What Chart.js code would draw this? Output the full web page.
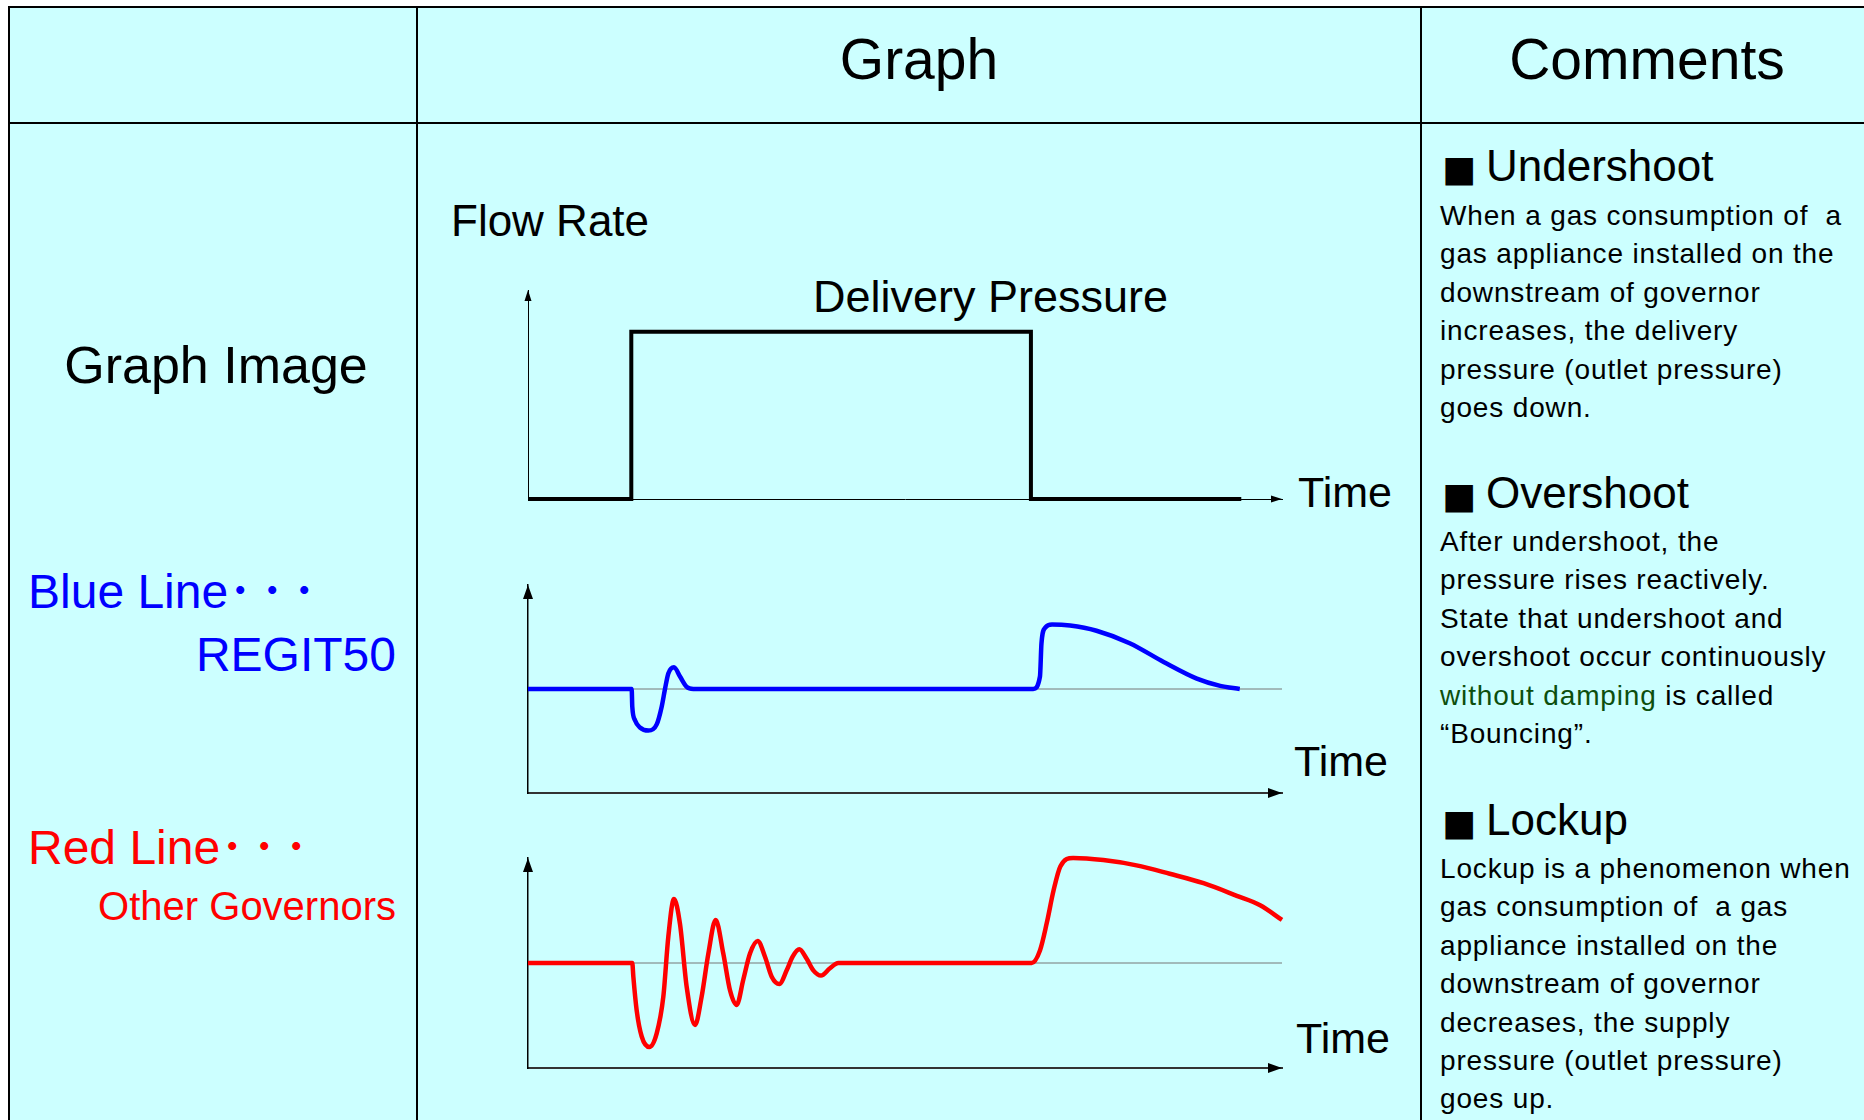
<!DOCTYPE html>
<html>
<head>
<meta charset="utf-8">
<script src="https://cdn.jsdelivr.net/npm/chart.js@4.4.1/dist/chart.umd.min.js"></script>
<style>
  html, body { margin: 0; padding: 0; background: #fff; }
  body { width: 1864px; height: 1120px; position: relative; overflow: hidden;
         font-family: "Liberation Sans", Arial, "Noto Sans CJK JP", sans-serif; color: #000; }
  #sheet { position: absolute; left: 8px; top: 6px; width: 1900px; height: 1200px;
           background: #ccffff; border-top: 2px solid #000; border-left: 2px solid #000; }
  .vline { position: absolute; top: 6px; width: 2px; height: 1200px; background: #000; }
  .hline { position: absolute; left: 8px; width: 1900px; height: 2px; background: #000; }
  .t { position: absolute; white-space: pre; line-height: 1; transform: translateY(-50%); }
  .c { transform: translate(-50%, -50%); }
  .dots { letter-spacing: 8px; }
  .head { font-size: 44px; }
  .sq { font-family: "DejaVu Sans"; font-size: 36px; margin-right: 10px; }
  .body { position: absolute; left: 1440px; font-size: 28px; letter-spacing: 0.85px;
          line-height: 38.4px; white-space: pre; }
  .green { color: #0d4f0d; }
  canvas { position: absolute; }
</style>
</head>
<body>
<div id="sheet"></div>
<div class="vline" style="left:416px"></div>
<div class="vline" style="left:1420px"></div>
<div class="hline" style="top:122px"></div>

<!-- header row -->
<div class="t c" style="left:919px; top:59px; font-size:57px">Graph</div>
<div class="t c" style="left:1647px; top:59px; font-size:57px">Comments</div>

<!-- left column -->
<div class="t c" style="left:216px; top:365px; font-size:52px">Graph Image</div>
<div class="t" style="left:28px; top:592px; font-size:48px; color:#0000ff">Blue Line<span class="dots">･･･</span></div>
<div class="t" style="right:1468px; top:655px; font-size:48px; color:#0000ff">REGIT50</div>
<div class="t" style="left:28px; top:848px; font-size:48px; color:#ff0000">Red Line<span class="dots">･･･</span></div>
<div class="t" style="right:1468px; top:906px; font-size:40px; color:#ff0000">Other Governors</div>

<!-- graph column labels -->
<div class="t" style="left:451px; top:221px; font-size:44px">Flow Rate</div>
<div class="t" style="left:813px; top:296px; font-size:45px">Delivery Pressure</div>
<div class="t" style="left:1298px; top:492px; font-size:43px">Time</div>
<div class="t" style="left:1294px; top:761px; font-size:43px">Time</div>
<div class="t" style="left:1296px; top:1038px; font-size:43px">Time</div>

<canvas id="flowChart" width="782" height="233" style="left:516px; top:274px"></canvas>
<canvas id="blueChart" width="782" height="232" style="left:516px; top:569px"></canvas>
<canvas id="redChart" width="782" height="234" style="left:516px; top:842px"></canvas>

<!-- comments column -->
<div class="t head" style="left:1442px; top:166px"><span class="sq">■</span>Undershoot</div>
<div class="body" style="top:197px">When a gas consumption of  a
gas appliance installed on the
downstream of governor
increases, the delivery
pressure (outlet pressure)
goes down.</div>

<div class="t head" style="left:1442px; top:493px"><span class="sq">■</span>Overshoot</div>
<div class="body" style="top:523px">After undershoot, the
pressure rises reactively.
State that undershoot and
overshoot occur continuously
<span class="green">without damping</span> is called
“Bouncing”.</div>

<div class="t head" style="left:1442px; top:820px"><span class="sq">■</span>Lockup</div>
<div class="body" style="top:850px">Lockup is a phenomenon when
gas consumption of  a gas
appliance installed on the
downstream of governor
decreases, the supply
pressure (outlet pressure)
goes up.</div>

<script>
// time axis runs 0..100 in all three graphs
const timeMin = 0;
const timeMax = 100;

// flow rate step (gas appliance switched on, then off)
const flowTime = [0, 13.7, 13.7, 66.7, 66.7, 94.6];
const flowRate = [0, 0, 1, 1, 0, 0];

// delivery pressure, REGIT50 (blue)
const blueTime  = [0, 13.75, 13.83, 14.19, 14.85, 15.96, 17.07, 17.73, 18.17, 18.61, 19.36, 20.16, 21.05, 21.92,
                   67.0, 67.9, 68.1, 68.6, 69.5, 71.9, 75.4, 79.8, 84.3, 88.7, 91.8, 94.4];
const bluePress = [1, 1, 0.83, 0.70, 0.63, 0.60, 0.66, 0.83, 1.0, 1.15, 1.21, 1.12, 1.02, 1.0,
                   1.0, 1.12, 1.44, 1.59, 1.62, 1.61, 1.56, 1.44, 1.26, 1.10, 1.03, 1.0];

// delivery pressure, other governors (red)
const redTime  = [0, 13.83, 13.97, 14.41, 15.08, 16.09, 17.07, 17.95, 18.61, 19.36, 20.16, 21.05, 22.15,
                  23.03, 23.92, 24.89, 25.9, 26.79, 27.67, 28.55, 29.44, 30.46, 31.43, 32.32, 33.33,
                  34.31, 35.1, 35.98, 36.96, 37.84, 38.86, 40.05, 41.15,
                  66.8, 67.9, 68.8, 69.7, 70.6, 72.3, 76.3, 80.7, 85.1, 89.6, 94.0, 97.1, 100];
const redPress = [1, 1, 0.87, 0.55, 0.30, 0.2, 0.33, 0.68, 1.25, 1.61, 1.37, 0.77, 0.41,
                  0.68, 1.09, 1.41, 1.09, 0.74, 0.60, 0.84, 1.09, 1.21, 1.06, 0.87, 0.80,
                  0.93, 1.06, 1.13, 1.04, 0.93, 0.88, 0.95, 1.0,
                  1.0, 1.12, 1.38, 1.69, 1.92, 2.0, 1.98, 1.93, 1.85, 1.76, 1.64, 1.55, 1.41];

// set pressure (thin reference line)
const setLevel = 1;

const pts = (xs, ys) => xs.map((x, i) => ({ x: x, y: ys[i] }));

// arrow heads on the ends of both axes
const axisArrows = {
  id: 'axisArrows',
  afterDraw(chart, args, opts) {
    const { ctx, chartArea: { left, right, top, bottom } } = chart;
    const len = opts.len, half = opts.half;
    ctx.save();
    ctx.fillStyle = '#000';
    ctx.beginPath();
    ctx.moveTo(left, top);
    ctx.lineTo(left - half, top + len);
    ctx.lineTo(left + half, top + len);
    ctx.closePath();
    ctx.moveTo(right, bottom);
    ctx.lineTo(right - len, bottom - half);
    ctx.lineTo(right - len, bottom + half);
    ctx.closePath();
    ctx.fill();
    ctx.restore();
  }
};

function makeChart(id, datasets, yMax, axis) {
  return new Chart(document.getElementById(id), {
    type: 'line',
    data: { datasets: datasets },
    plugins: [axisArrows],
    options: {
      responsive: false,
      animation: false,
      events: [],
      layout: { padding: { left: 12, right: 16, top: 16, bottom: 8 } },
      elements: { point: { radius: 0 } },
      scales: {
        x: {
          type: 'linear', min: timeMin, max: timeMax,
          grid: { display: false, drawTicks: false },
          ticks: { display: false },
          border: { display: true, color: axis.xColor, width: axis.xWidth },
          afterFit(s) { s.height = 0; }
        },
        y: {
          type: 'linear', min: 0, max: yMax,
          grid: { display: false, drawTicks: false },
          ticks: { display: false },
          border: { display: true, color: '#000', width: axis.yWidth },
          afterFit(s) { s.width = 0; }
        }
      },
      plugins: {
        legend: { display: false },
        tooltip: { enabled: false },
        axisArrows: { len: axis.len, half: axis.half }
      }
    }
  });
}

// Flow Rate
makeChart('flowChart', [
  {
    data: pts(flowTime, flowRate),
    borderColor: '#000', borderWidth: 4, tension: 0,
    borderJoinStyle: 'miter', borderCapStyle: 'butt', clip: false
  }
], 1.25, { xColor: '#000', xWidth: 1, yWidth: 1, len: 11, half: 3.5 });

// REGIT50
makeChart('blueChart', [
  {
    data: pts(blueTime, bluePress),
    borderColor: '#0000ff', borderWidth: 4.5,
    cubicInterpolationMode: 'monotone', clip: false, order: 0
  },
  {
    data: pts([timeMin, timeMax], [setLevel, setLevel]),
    borderColor: '#777', borderWidth: 1, order: 1
  }
], 2, { xColor: '#333', xWidth: 2, yWidth: 1.5, len: 14, half: 5 });

// Other governors
makeChart('redChart', [
  {
    data: pts(redTime, redPress),
    borderColor: '#ff0000', borderWidth: 4.5,
    cubicInterpolationMode: 'monotone', clip: false, order: 0
  },
  {
    data: pts([timeMin, timeMax], [setLevel, setLevel]),
    borderColor: '#777', borderWidth: 1, order: 1
  }
], 2, { xColor: '#333', xWidth: 2, yWidth: 1.5, len: 14, half: 5 });
</script>
</body>
</html>
